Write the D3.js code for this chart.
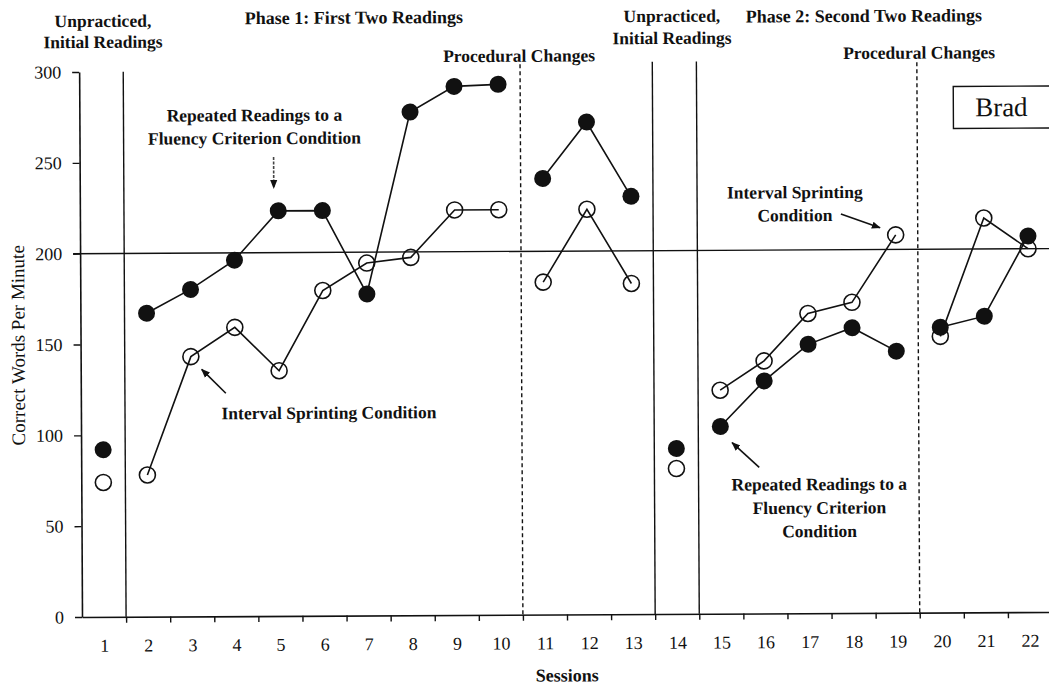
<!DOCTYPE html>
<html>
<head>
<meta charset="utf-8">
<script src="https://cdn.jsdelivr.net/npm/d3@7"></script>
<style>
  html, body { margin: 0; padding: 0; background: #fff; }
  svg { display: block; }
  text { font-family: "Liberation Serif", "Times New Roman", serif; fill: #111; }
</style>
</head>
<body>
<svg id="chart" width="1049" height="686"></svg>
<script>
// Session numbers along the x axis
const sessions = [1,2,3,4,5,6,7,8,9,10,11,12,13,14,15,16,17,18,19,20,21,22];
// Correct words per minute, Repeated Readings to a Fluency Criterion (filled circles)
const repeatedReadings = [92,167,180,196,223,223,177,277,291,292,240,271,230,91,103,128,148,157,144,157,163,207];
// Correct words per minute, Interval Sprinting (open circles)
const intervalSprinting = [74,78,143,159,135,179,194,197,223,223,183,223,182,80,123,139,165,171,208,152,217,200];
// Runs of sessions joined by a line (first and last session of each run)
const runStarts = [1,2,11,14,15,20];
const runEnds   = [1,10,13,14,19,22];
// Condition change lines (between sessions)
const phaseLines = [1.5, 13.5, 14.5];
const procedureLines = [10.5, 19.5];
// Axis ticks
const yTicks = [0,50,100,150,200,250,300];
const criterion = 200;

const svg = d3.select("#chart");
const ink = "#111";

const x = d3.scaleLinear().domain([0.5, 22.5]).range([82, 1052]);
const y = d3.scaleLinear().domain([0, 300]).range([617, 72]);

// The whole figure sits very slightly tilted on the page
const g = svg.append("g").attr("transform", "rotate(-0.3, 82, 617)");

// Y axis
const yAxis = g.append("g").attr("transform", `translate(${x(0.5)},0)`)
  .call(d3.axisLeft(y).tickValues(yTicks).tickSize(7).tickSizeOuter(0).tickPadding(11));
yAxis.select(".domain").attr("stroke", ink).attr("stroke-width", 1.6);
yAxis.selectAll(".tick line").attr("stroke", ink).attr("stroke-width", 1.4);
yAxis.selectAll(".tick text").attr("font-size", 18).attr("fill", ink);

// X axis: ticks at session boundaries, labels at session centres
const boundaries = sessions.map(s => s + 0.5);
const xAxis = g.append("g").attr("transform", `translate(0,${y(0)})`)
  .call(d3.axisBottom(x).tickValues(boundaries).tickFormat("").tickSize(6).tickSizeOuter(0));
xAxis.select(".domain").attr("stroke", ink).attr("stroke-width", 1.6);
xAxis.selectAll(".tick line").attr("stroke", ink).attr("stroke-width", 1.4);

const xLabels = g.append("g").attr("transform", `translate(0,${y(0)})`)
  .call(d3.axisBottom(x).tickValues(sessions).tickFormat(d3.format("d")).tickSize(0).tickPadding(22));
xLabels.select(".domain").remove();
xLabels.selectAll(".tick text").attr("font-size", 18).attr("fill", ink);

// Axis titles
g.append("text").attr("x", 567).attr("y", 684).attr("text-anchor", "middle")
  .attr("font-size", 18).attr("font-weight", "bold").text("Sessions");
g.append("text").attr("transform", "translate(26,345) rotate(-90)").attr("text-anchor", "middle")
  .attr("font-size", 19).text("Correct Words Per Minute");

// Criterion line at 200 words per minute
g.append("line").attr("x1", x(0.5) - 7).attr("x2", 1060)
  .attr("y1", y(criterion)).attr("y2", y(criterion))
  .attr("stroke", ink).attr("stroke-width", 1.4);

// Phase change lines
g.selectAll(".phase").data(phaseLines).join("line").attr("class", "phase")
  .attr("x1", d => x(d)).attr("x2", d => x(d))
  .attr("y1", d => y(d < 2 ? 300 : 304)).attr("y2", y(0))
  .attr("stroke", ink).attr("stroke-width", 1.4);
g.selectAll(".proc").data(procedureLines).join("line").attr("class", "proc")
  .attr("x1", d => x(d)).attr("x2", d => x(d))
  .attr("y1", y(303)).attr("y2", y(0))
  .attr("stroke", ink).attr("stroke-width", 1.4).attr("stroke-dasharray", "4,3");

// Data lines and markers
const line = d3.line().x(d => x(d.s)).y(d => y(d.v));
function runs(values) {
  return runStarts.map((s, i) => sessions.filter(k => k >= s && k <= runEnds[i])
    .map(k => ({ s: k, v: values[k - 1] })));
}
[repeatedReadings, intervalSprinting].forEach(vals => {
  g.append("g").selectAll("path").data(runs(vals)).join("path")
    .attr("d", line).attr("fill", "none").attr("stroke", ink).attr("stroke-width", 1.6);
});
g.append("g").selectAll("circle").data(sessions).join("circle")
  .attr("cx", d => x(d)).attr("cy", d => y(intervalSprinting[d - 1])).attr("r", 8)
  .attr("fill", "none").attr("stroke", ink).attr("stroke-width", 1.6);
g.append("g").selectAll("circle").data(sessions).join("circle")
  .attr("cx", d => x(d)).attr("cy", d => y(repeatedReadings[d - 1])).attr("r", 8.5)
  .attr("fill", ink);

// Arrowhead marker
svg.append("defs").append("marker").attr("id", "head")
  .attr("viewBox", "0 0 10 10").attr("refX", 9).attr("refY", 5)
  .attr("markerWidth", 9).attr("markerHeight", 9).attr("markerUnits", "userSpaceOnUse")
  .attr("orient", "auto")
  .append("path").attr("d", "M0,1 L10,5 L0,9 Z").attr("fill", ink);

// Text blocks
function label(lines, cx, y0, size, bold, lh) {
  const t = g.append("text").attr("text-anchor", "middle").attr("font-size", size)
    .attr("font-weight", bold ? "bold" : "normal");
  lines.forEach((s, i) => t.append("tspan").attr("x", cx).attr("y", y0 + i * lh).text(s));
}
label(["Unpracticed,", "Initial Readings"], 106, 27, 17.5, true, 21);
label(["Phase 1: First Two Readings"], 357, 25, 18, true, 0);
label(["Procedural Changes"], 522, 64, 17.5, true, 0);
label(["Unpracticed,", "Initial Readings"], 675, 25, 17.5, true, 22);
label(["Phase 2: Second Two Readings"], 867, 26, 18, true, 0);
label(["Procedural Changes"], 922, 63, 17.5, true, 0);

label(["Repeated Readings to a", "Fluency Criterion Condition"], 257, 122, 17.5, true, 23);
label(["Interval Sprinting Condition"], 330, 420, 17.5, true, 0);
label(["Interval Sprinting", "Condition"], 797, 202, 17.5, true, 23);
label(["Repeated Readings to a", "Fluency Criterion", "Condition"], 820, 494, 17.5, true, 23.5);

// Annotation arrows
const arrows = [
  [276, 158, 276, 189],
  [227, 394, 203, 370],
  [843, 218, 882, 232],
  [760, 471, 733, 446]
];
g.selectAll(".arrow").data(arrows).join("line").attr("class", "arrow")
  .attr("x1", d => d[0]).attr("y1", d => d[1]).attr("x2", d => d[2]).attr("y2", d => d[3])
  .attr("stroke", (d, i) => i === 0 ? "#444" : ink).attr("stroke-width", 1.6)
  .attr("stroke-dasharray", (d, i) => i === 0 ? "3,1.5" : null)
  .attr("marker-end", "url(#head)");

// Participant name box
g.append("rect").attr("x", 956).attr("y", 91).attr("width", 110).attr("height", 42)
  .attr("fill", "#fff").attr("stroke", ink).attr("stroke-width", 1.4);
g.append("text").attr("x", 1004).attr("y", 121).attr("text-anchor", "middle")
  .attr("font-size", 27).text("Brad");
</script>
</body>
</html>
